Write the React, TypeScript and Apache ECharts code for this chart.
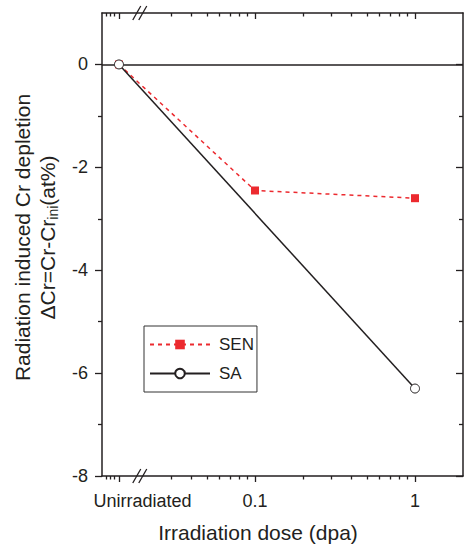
import React, { useEffect, useRef } from "react";
import * as echarts from "echarts";

// ---- data ----
const UNIRR_POS = -1.85; // axis position (log10 units) reserved for the unirradiated state
const BREAK_POS = -1.72; // position of the axis break marks (log10 units)
const xTickLabels = ["Unirradiated", "0.1", "1"];
const senDoses: (number | null)[] = [null, 0.1, 1];
const senValues = [0, -2.45, -2.6];
const saDoses: (number | null)[] = [null, 1];
const saValues = [0, -6.3];
const xMajorTickDoses = [0.1, 1];
const xMinorTickDoses = [0.03, 0.04, 0.05, 0.06, 0.07, 0.08, 0.09, 0.2, 0.3, 0.4, 0.5, 0.6, 0.7, 0.8, 0.9, 2];
const preBreakMinorTicks = [-1.93, -1.905, -1.88];
const yMajorTicks = [-8, -6, -4, -2, 0];
const yMinorTicks = [-7, -5, -3, -1];
const X_MIN = -1.956;
const X_MAX = 0.3;
const Y_MIN = -8;
const Y_MAX = 1;

const FONT = "'Liberation Sans', Arial, Helvetica, sans-serif";
const INK = "#231f20";
const RED = "#ec2a2f";

const toX = (d: number | null) => (d === null ? UNIRR_POS : Math.log10(d));

export default function App() {
  const ref = useRef<HTMLDivElement>(null);
  useEffect(() => {
    if (!ref.current) return;
    const chart = echarts.init(ref.current, null, { renderer: "svg" });
    const majorX = [UNIRR_POS, ...xMajorTickDoses.map(toX)];
    const minorX = [...preBreakMinorTicks, ...xMinorTickDoses.map(toX)];
    const labelX = [UNIRR_POS, ...xMajorTickDoses.map(toX)];
    const xFormatter = (v: number) => {
      const i = labelX.findIndex((p) => Math.abs(p - v) < 1e-6);
      if (i === 0) return "{u|" + xTickLabels[0] + "}";
      return i >= 0 ? xTickLabels[i] : "";
    };
    const baseX = {
      type: "value",
      min: X_MIN,
      max: X_MAX,
      splitLine: { show: false },
    };
    const baseY = {
      type: "value",
      min: Y_MIN,
      max: Y_MAX,
      splitLine: { show: false },
    };
    const axisLine = { show: true, onZero: false, lineStyle: { color: INK, width: 1.5 } };
    const noLine = { show: false, onZero: false };
    const option: any = {
      animation: false,
      grid: { left: 102, right: 2, top: 13, bottom: 67, containLabel: false },
      legend: {
        orient: "vertical",
        left: 144,
        top: 326,
        padding: [10, 3, 10, 5],
        itemWidth: 60,
        itemHeight: 12,
        itemGap: 12,
        borderColor: "#333",
        borderWidth: 1,
        textStyle: { fontFamily: FONT, fontSize: 17, color: INK, padding: [0, 0, 0, 4] },
        data: ["SEN", "SA"],
      },
      xAxis: [
        {
          ...baseX,
          position: "bottom",
          axisLine,
          axisTick: { show: true, inside: false, length: 6, customValues: majorX, lineStyle: { color: INK, width: 1.3 } },
          axisLabel: {
            show: true,
            customValues: labelX,
            formatter: xFormatter,
            margin: 16,
            fontFamily: FONT,
            fontSize: 18,
            color: INK,
            rich: { u: { fontFamily: FONT, fontSize: 18, color: INK, padding: [0, 0, 0, 47] } },
          },
          name: "Irradiation dose (dpa)",
          nameLocation: "middle",
          nameGap: 46,
          nameTextStyle: { fontFamily: FONT, fontSize: 21, color: INK, padding: [0, 49, 0, 0] },
        },
        {
          ...baseX,
          position: "bottom",
          axisLine: noLine,
          axisTick: { show: true, inside: false, length: 3.5, customValues: minorX, lineStyle: { color: INK, width: 1.3 } },
          axisLabel: { show: false },
        },
        {
          ...baseX,
          position: "top",
          axisLine,
          axisTick: { show: true, inside: true, length: 6, customValues: majorX, lineStyle: { color: INK, width: 1.3 } },
          axisLabel: { show: false },
        },
        {
          ...baseX,
          position: "top",
          axisLine: noLine,
          axisTick: { show: true, inside: true, length: 3.5, customValues: minorX, lineStyle: { color: INK, width: 1.3 } },
          axisLabel: { show: false },
        },
      ],
      yAxis: [
        {
          ...baseY,
          position: "left",
          axisLine,
          axisTick: { show: true, inside: false, length: 7, customValues: yMajorTicks, lineStyle: { color: INK, width: 1.3 } },
          axisLabel: { show: true, customValues: yMajorTicks, margin: 14, fontFamily: FONT, fontSize: 18, color: INK },
          name: "Radiation induced Cr depletion\n{a|ΔCr=Cr-Cr}{b|ini}{a|(at%)}",
          nameLocation: "middle",
          nameGap: 42,
          nameTextStyle: {
            fontFamily: FONT,
            fontSize: 21,
            lineHeight: 25,
            color: INK,
            padding: [0, 0, 0, 14],
            rich: {
              a: { fontFamily: FONT, fontSize: 21, lineHeight: 25, color: INK },
              b: { fontFamily: FONT, fontSize: 14, lineHeight: 14, color: INK, verticalAlign: "bottom" },
            },
          },
        },
        {
          ...baseY,
          position: "left",
          axisLine: noLine,
          axisTick: { show: true, inside: false, length: 4, customValues: yMinorTicks, lineStyle: { color: INK, width: 1.3 } },
          axisLabel: { show: false },
        },
        {
          ...baseY,
          position: "right",
          axisLine,
          axisTick: { show: true, inside: true, length: 7, customValues: yMajorTicks, lineStyle: { color: INK, width: 1.3 } },
          axisLabel: { show: false },
        },
        {
          ...baseY,
          position: "right",
          axisLine: noLine,
          axisTick: { show: true, inside: true, length: 4, customValues: yMinorTicks, lineStyle: { color: INK, width: 1.3 } },
          axisLabel: { show: false },
        },
      ],
      series: [
        {
          name: "SEN",
          type: "line",
          xAxisIndex: 0,
          yAxisIndex: 0,
          z: 3,
          data: senDoses.map((d, i) => [toX(d), senValues[i]]),
          symbol: "rect",
          symbolSize: 8,
          itemStyle: { color: RED },
          lineStyle: { color: RED, width: 1.5, type: [4, 4] },
          markLine: {
            silent: true,
            z: 1,
            symbol: ["none", "none"],
            label: { show: false },
            lineStyle: { color: INK, width: 1.5, type: "solid" },
            data: [{ yAxis: 0 }],
          },
        },
        {
          name: "SA",
          type: "line",
          xAxisIndex: 0,
          yAxisIndex: 0,
          z: 4,
          data: saDoses.map((d, i) => [toX(d), saValues[i]]),
          symbol: "circle",
          symbolSize: 9,
          itemStyle: { color: "#fff", borderColor: INK, borderWidth: 1 },
          lineStyle: { color: INK, width: 1.5 },
        },
      ],
    };
    chart.setOption(option);
    const bx = chart.convertToPixel({ xAxisIndex: 0 }, BREAK_POS) as number;
    const yTop = chart.convertToPixel({ yAxisIndex: 0 }, Y_MAX) as number;
    const yBot = chart.convertToPixel({ yAxisIndex: 0 }, Y_MIN) as number;
    const slashes: any[] = [];
    [yTop, yBot].forEach((yy) => {
      [-3, 3].forEach((off) => {
        slashes.push({
          type: "line",
          z: 100,
          shape: { x1: bx + off - 4, y1: yy + 7, x2: bx + off + 4, y2: yy - 7 },
          style: { stroke: INK, lineWidth: 1.3 },
        });
      });
    });
    chart.setOption({ graphic: slashes });
    return () => chart.dispose();
  }, []);
  return (
    <div
      ref={ref}
      style={{ position: "absolute", left: 0, top: 0, width: 465, height: 548, background: "#fff" }}
    />
  );
}
